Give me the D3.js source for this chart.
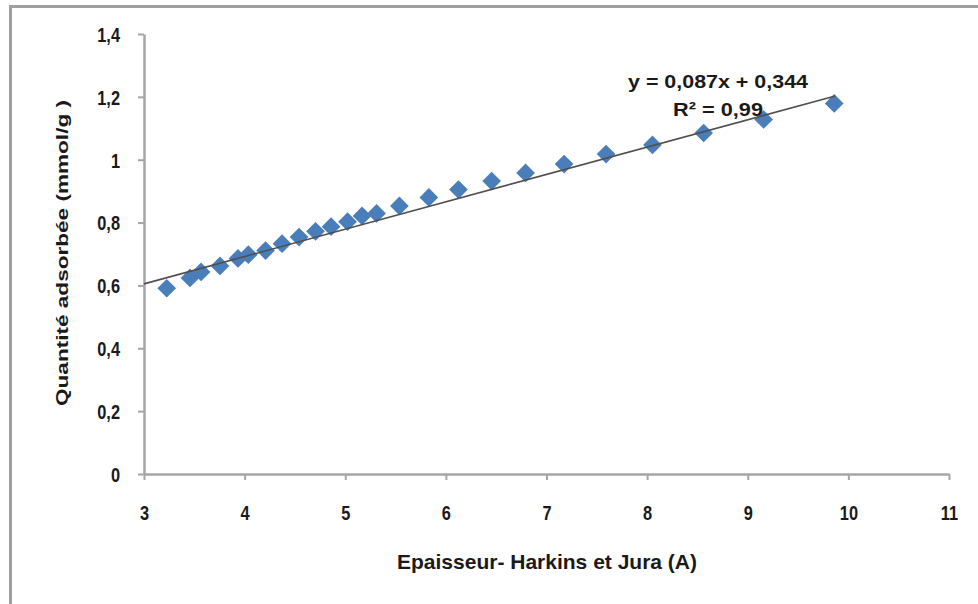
<!DOCTYPE html>
<html><head><meta charset="utf-8">
<script src="https://cdn.jsdelivr.net/npm/d3@7"></script>
<style>
html,body{margin:0;padding:0;background:#fff;}
svg{display:block;}
</style></head>
<body>
<svg id="c" width="978" height="604"></svg>
<script>
const thickness = [3.226,3.457,3.567,3.755,3.934,4.037,4.208,4.372,4.541,4.705,4.859,5.023,5.167,5.311,5.538,5.831,6.125,6.455,6.792,7.175,7.592,8.053,8.562,9.158,9.859];
const adsorbed  = [0.591,0.624,0.643,0.662,0.686,0.698,0.711,0.733,0.754,0.772,0.787,0.803,0.821,0.829,0.853,0.880,0.905,0.932,0.958,0.986,1.018,1.047,1.085,1.128,1.179];
const xTicks = [3,4,5,6,7,8,9,10,11];
const yTicks = [0,0.2,0.4,0.6,0.8,1,1.2,1.4];
const slope = 0.087, intercept = 0.344;
const trendRange = [3, 9.87];
const eqLabel = "y = 0,087x + 0,344";
const r2Label = "R² = 0,99";
const xTitle = "Epaisseur- Harkins et Jura (A)";
const yTitle = "Quantité  adsorbée (mmol/g )";

const svg = d3.select("#c");
const x = d3.scaleLinear().domain([3,11]).range([144,949]);
const y = d3.scaleLinear().domain([0,1.4]).range([474,34]);
const fmt = v => String(v).replace(".", ",");
const font = "'Liberation Sans',Arial,sans-serif";
const sx = 0.78;

// outer frame
svg.append("rect").attr("x",10.5).attr("y",6.5).attr("width",990).attr("height",620)
  .attr("fill","none").attr("stroke","#a0a0a0").attr("stroke-width",3);

// axes
const xAxis = svg.append("g").attr("transform",`translate(0,${y(0)})`)
  .call(d3.axisBottom(x).tickValues(xTicks).tickSize(6).tickSizeOuter(0).tickFormat(fmt));
const yAxis = svg.append("g").attr("transform",`translate(${x(3)},0)`)
  .call(d3.axisLeft(y).tickValues(yTicks).tickSize(6).tickSizeOuter(0).tickFormat(fmt));
[xAxis,yAxis].forEach(g=>{
  g.attr("font-size",21);
  g.select(".domain").attr("stroke","#a6a6a6").attr("stroke-width",2.5);
  g.selectAll(".tick line").attr("stroke","#a6a6a6").attr("stroke-width",2);
  g.selectAll("text").attr("fill","#1a1a1a").attr("font-family",font)
    .attr("font-weight","bold").style("font-size","21px");
});
xAxis.selectAll("text").attr("dy",0).attr("y",46).attr("transform",`scale(${sx},1)`);
yAxis.selectAll("text").attr("x",-24/sx).attr("dy","0.35em").attr("transform",`scale(${sx},1)`);

// markers
const diamond = d3.symbol().type(d3.symbolSquare).size(175);
svg.append("g").selectAll("path").data(thickness).join("path")
  .attr("d",diamond())
  .attr("transform",(d,i)=>`translate(${x(d)},${y(adsorbed[i])}) rotate(45)`)
  .attr("fill","#4a7ebb");

// trendline
svg.append("line")
  .attr("x1",x(trendRange[0])).attr("y1",y(slope*trendRange[0]+intercept))
  .attr("x2",x(trendRange[1])).attr("y2",y(slope*trendRange[1]+intercept))
  .attr("stroke","#505050").attr("stroke-width",1.6);

// equation labels
svg.append("text").attr("x",718).attr("y",88).attr("text-anchor","middle")
  .attr("font-family",font).attr("font-weight","bold").attr("font-size",19)
  .attr("textLength",180).attr("lengthAdjust","spacingAndGlyphs")
  .attr("fill","#1a1a1a").text(eqLabel);
svg.append("text").attr("x",718).attr("y",116).attr("text-anchor","middle")
  .attr("font-family",font).attr("font-weight","bold").attr("font-size",19)
  .attr("textLength",90).attr("lengthAdjust","spacingAndGlyphs")
  .attr("fill","#1a1a1a").text(r2Label);

// titles
svg.append("text").attr("x",547).attr("y",569).attr("text-anchor","middle")
  .attr("font-family",font).attr("font-weight","bold").attr("font-size",21)
  .attr("textLength",300).attr("lengthAdjust","spacingAndGlyphs")
  .attr("fill","#1a1a1a").text(xTitle);
svg.append("text").attr("transform","translate(68,253) rotate(-90)").attr("text-anchor","middle")
  .attr("font-family",font).attr("font-weight","bold").attr("font-size",17)
  .attr("textLength",306).attr("lengthAdjust","spacingAndGlyphs")
  .attr("fill","#1a1a1a").text(yTitle);
</script>
</body></html>
